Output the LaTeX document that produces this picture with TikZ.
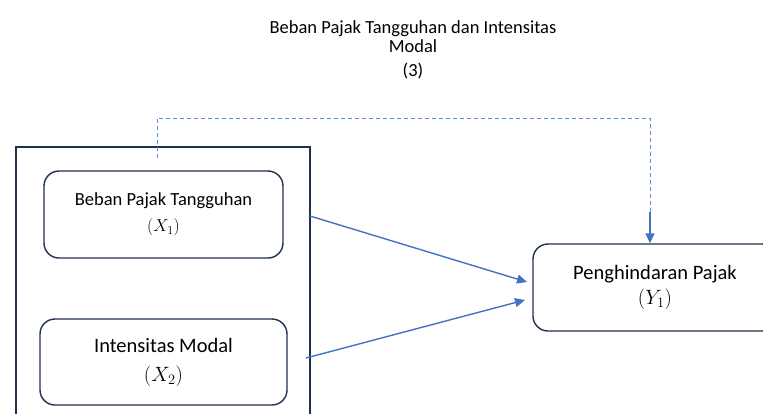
\documentclass[tikz,border=0pt]{standalone}
\usepackage{fontspec}
\setmainfont{Carlito}
\usetikzlibrary{arrows.meta}
\definecolor{navy}{HTML}{1F3050}
\definecolor{arrowblue}{HTML}{4472C4}
\definecolor{dashblue}{HTML}{5B8FD6}
\tikzset{
  varbox/.style={draw=navy, line width=1.4pt, rounded corners=15pt, align=center, inner sep=0pt},
  link/.style={draw=arrowblue, line width=1.4pt, -{Triangle[length=10pt,width=9pt]}},
  dashlink/.style={draw=dashblue, line width=1pt, dash pattern=on 4pt off 3pt},
}
\begin{document}
\begin{tikzpicture}[x=1pt,y=-1pt]
\useasboundingbox (0,0) rectangle (763,413);
\clip (0,0) rectangle (763,413);
% title
\node[font=\fontsize{18.5}{19}\selectfont, align=center] (title) at (413,50) {Beban Pajak Tangguhan dan Intensitas\\Modal\\[5pt](3)};
% outer frame
\draw[navy, line width=1.4pt] (16,430) -- (16,147) -- (310,147) -- (310,430);
% boxes
\node[varbox, minimum width=239pt, minimum height=87pt, font=\fontsize{18.5}{20}\selectfont] (x1) at (163.5,214.5) {Beban Pajak Tangguhan\\[6pt]$(X_1)$};
\node[varbox, minimum width=247pt, minimum height=86pt, font=\fontsize{20.5}{22}\selectfont] (x2) at (163.5,362) {Intensitas Modal\\[7pt]$(X_2)$};
\node[varbox, minimum width=244pt, minimum height=87pt, font=\fontsize{20.5}{22}\selectfont] (y1) at (655,287.5) {Penghindaran Pajak\\[3pt]$(Y_1)$};
% connectors
\coordinate (s1) at (310,216);
\coordinate (e1) at (527,282);
\coordinate (s2) at (306,358);
\coordinate (e2) at (525,300);
\draw[link] (s1) -- (e1);
\draw[link] (s2) -- (e2);
\coordinate (d0) at (157,158);
\coordinate (d1) at (157,118);
\coordinate (d2) at (650,118);
\coordinate (d3) at (650,212);
\draw[dashlink] (d0) -- (d1) -- (d2) -- (d3);
\draw[link] (d3) -- (y1.north -| d3);
\end{tikzpicture}
\end{document}
